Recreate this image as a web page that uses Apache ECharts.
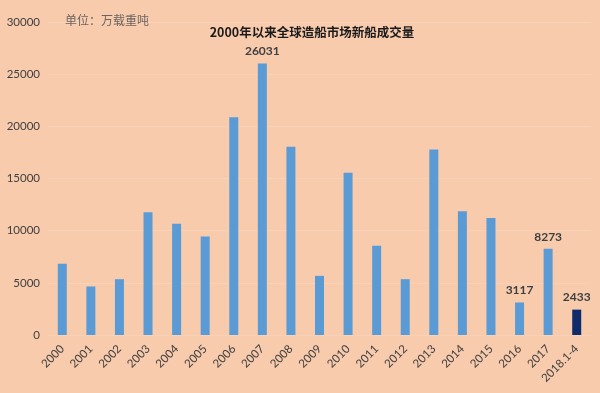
<!DOCTYPE html>
<html>
<head>
<meta charset="utf-8">
<script src="https://cdn.jsdelivr.net/npm/echarts@6/dist/echarts.min.js"></script>
<style>
html,body{margin:0;padding:0;background:#F8CBAD;}
#c{width:600px;height:393px;}
</style>
</head>
<body>
<div id="c"></div>
<script>
const categories = ['2000','2001','2002','2003','2004','2005','2006','2007','2008','2009','2010','2011','2012','2013','2014','2015','2016','2017','2018.1-4'];
const values = [6830, 4650, 5350, 11760, 10670, 9450, 20880, 26031, 18050, 5670, 15550, 8560, 5350, 17790, 11860, 11220, 3117, 8273, 2433];
const labeledCategories = ['2007', '2016', '2017', '2018.1-4'];
const highlightCategory = '2018.1-4';
const yTicks = [0, 5000, 10000, 15000, 20000, 25000, 30000];
const titleText = '2000年以来全球造船市场新船成交量';
const unitText = '单位：万载重吨';

const chart = echarts.init(document.getElementById('c'), null, {renderer: 'canvas'});
const latin = 'Lato, "Open Sans", sans-serif';
chart.setOption({
  backgroundColor: '#F8CBAD',
  animation: false,
  title: [
    {text: titleText, left: 307, top: 21, textAlign: 'center',
     textStyle: {fontFamily: '"Noto Sans CJK SC", sans-serif', fontSize: 12.5, fontWeight: 'bold', color: '#1a1a1a'}},
    {text: unitText, left: 60, top: 9,
     textStyle: {fontFamily: '"Noto Sans CJK SC", sans-serif', fontSize: 12, fontWeight: 'normal', color: '#6b6460'}}
  ],
  grid: {left: 48, right: 9, top: 22, bottom: 58},
  xAxis: {
    type: 'category',
    data: categories,
    axisLine: {show: false},
    axisTick: {show: false},
    axisLabel: {rotate: 45, color: '#404040', fontFamily: latin, fontSize: 11.5, margin: 12, interval: 0}
  },
  yAxis: {
    type: 'value',
    min: yTicks[0], max: yTicks[yTicks.length - 1], interval: 5000,
    axisLine: {show: false},
    axisTick: {show: false},
    axisLabel: {color: '#404040', fontFamily: latin, fontSize: 11.5, margin: 8, formatter: v => String(v)},
    splitLine: {lineStyle: {color: '#F9D1B7', width: 1}}
  },
  series: [{
    type: 'bar',
    barWidth: 9,
    data: values.map((v, i) => ({
      value: v,
      itemStyle: {color: categories[i] === highlightCategory ? '#102B6A' : '#5B9BD5'},
      label: {show: labeledCategories.includes(categories[i])}
    })),
    label: {position: 'top', distance: 6, color: '#404040', fontFamily: latin, fontSize: 12, fontWeight: 'bold'}
  }]
});
</script>
</body>
</html>
